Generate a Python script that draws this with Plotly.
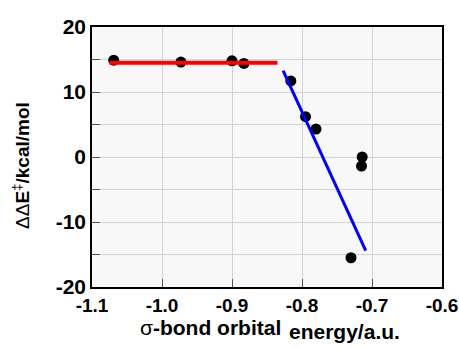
import plotly.graph_objects as go

# data
orbital_energy = [-1.069, -0.973, -0.900, -0.883, -0.816, -0.795, -0.780, -0.714, -0.715, -0.730]
dd_energy = [14.9, 14.6, 14.8, 14.4, 11.7, 6.2, 4.3, 0.0, -1.4, -15.5]

red_fit_x = [-1.075, -0.835]
red_fit_y = [14.5, 14.5]
blue_fit_x = [-0.827, -0.709]
blue_fit_y = [13.3, -14.4]

x_tickvals = [-1.1, -1.0, -0.9, -0.8, -0.7, -0.6]
x_ticktext = ["-1.1", "-1.0", "-0.9", "-0.8", "-0.7", "-0.6"]
y_tickvals = [-20, -15, -10, -5, 0, 5, 10, 15, 20]
y_ticktext = ["-20", "", "-10", "", "0", "", "10", "", "20"]

W, H = 459, 348
L, R, T, B = 92, 17, 27, 61

def px(xp):
    return (xp - L) / (W - L - R)

def py(yp):
    return (H - B - yp) / (H - T - B)

fig = go.Figure()
fig.add_trace(go.Scatter(x=orbital_energy, y=dd_energy, mode="markers",
                         marker=dict(color="black", size=11), showlegend=False))
fig.add_trace(go.Scatter(x=red_fit_x, y=red_fit_y, mode="lines",
                         line=dict(color="#ff0000", width=4), showlegend=False))
fig.add_trace(go.Scatter(x=blue_fit_x, y=blue_fit_y, mode="lines",
                         line=dict(color="#0000ff", width=3), showlegend=False))

axis_common = dict(showline=True, mirror=True, linecolor="black", linewidth=1.5,
                   showgrid=True, gridcolor="#d2d2d2", gridwidth=1,
                   ticks="inside", ticklen=8, tickcolor="#555", tickwidth=1,
                   zeroline=False, automargin=False, ticklabeloverflow="allow")

fig.update_xaxes(range=[-1.1, -0.6], tickvals=x_tickvals, ticktext=x_ticktext,
                 tickfont=dict(family="Liberation Sans", size=19, color="black", weight="bold"),
                 **axis_common)
fig.update_yaxes(range=[-20, 20], tickvals=y_tickvals, ticktext=y_ticktext,
                 tickfont=dict(family="Liberation Sans", size=21, color="black", weight="bold"),
                 **axis_common)

fig.add_annotation(text="σ<b>-bond orbital</b>", xref="paper", yref="paper",
                   x=px(283), y=py(328), xanchor="right", yanchor="middle",
                   showarrow=False, font=dict(family="Liberation Sans", size=21, color="black"))
fig.add_annotation(text="<b>energy/a.u.</b>", xref="paper", yref="paper",
                   x=px(287), y=py(331), xanchor="left", yanchor="middle",
                   showarrow=False, font=dict(family="Liberation Sans", size=21, color="black"))
fig.add_annotation(text="ΔΔ<b>E</b><sup>‡</sup><b>/kcal/mol</b>", xref="paper", yref="paper",
                   x=px(21), y=py(166), xanchor="center", yanchor="middle", textangle=-90,
                   showarrow=False, font=dict(family="Liberation Sans", size=19, color="black"))

fig.update_layout(width=W, height=H, margin=dict(l=L, r=R, t=T, b=B),
                  paper_bgcolor="white", plot_bgcolor="#f8f8f8", showlegend=False)

fig.write_html("out.html", config={"displayModeBar": False},
               post_script="document.body.style.margin='0';document.body.style.overflow='hidden';")
